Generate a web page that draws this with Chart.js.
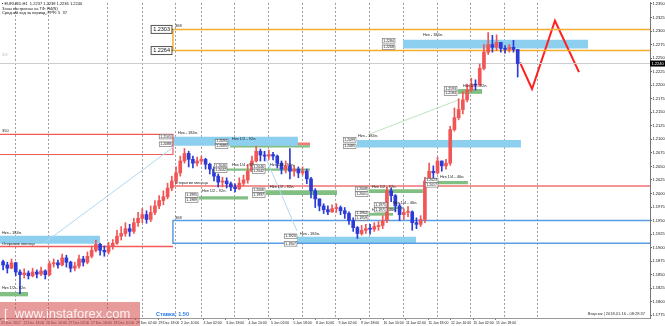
<!DOCTYPE html>
<html>
<head>
<meta charset="utf-8">
<script src="https://cdn.jsdelivr.net/npm/chart.js@4.4.1/dist/chart.umd.min.js"></script>
<style>
html, body { margin: 0; padding: 0; background: #fff; }
</style>
</head>
<body>
<canvas id="chart" width="665" height="326"></canvas>
<script>
// EURUSD H1, one candle = 3 hours, x is counted in trading hours from the left edge
const firstOpen = 1.1874;
const closes = [
  1.1868, 1.1862, 1.1872, 1.1855, 1.1850, 1.1853, 1.1848, 1.1855, 1.1851, 1.1857,
  1.1850, 1.1870, 1.1872, 1.1868, 1.1881, 1.1873, 1.1862, 1.1866, 1.1879, 1.1873,
  1.1884, 1.1895, 1.1906, 1.1895, 1.1892, 1.1903, 1.1908, 1.1921, 1.1926, 1.1935,
  1.1930, 1.1946, 1.1954, 1.1961, 1.1952, 1.1965, 1.1977, 1.1987, 1.1994, 1.2010,
  1.2023, 1.2038, 1.2060, 1.2074, 1.2063, 1.2056, 1.2060, 1.2063, 1.2054, 1.2045,
  1.2032, 1.2021, 1.2023, 1.2018, 1.2012, 1.2009, 1.2019, 1.2025, 1.2041, 1.2060,
  1.2078, 1.2071, 1.2069, 1.2072, 1.2069, 1.2056, 1.2045, 1.2051, 1.2041, 1.2045,
  1.2038, 1.2041, 1.2027, 1.2005, 1.1990, 1.1977, 1.1970, 1.1966, 1.1972, 1.1974,
  1.1968, 1.1963, 1.1950, 1.1937, 1.1926, 1.1932, 1.1935, 1.1934, 1.1939, 1.1941,
  1.1950, 1.2005, 1.1996, 1.1977, 1.1961, 1.1965, 1.1966, 1.1946, 1.1943, 1.1952,
  1.2023, 1.2041, 1.2038, 1.2060, 1.2051, 1.2056, 1.2118, 1.2140, 1.2155, 1.2173,
  1.2191, 1.2202, 1.2200, 1.2231, 1.2261, 1.2275, 1.2270, 1.2279, 1.2268, 1.2266,
  1.2270, 1.2266, 1.2240
];
const highs = [
  1.1877, 1.1873, 1.1879, 1.1873, 1.1859, 1.1861, 1.1857, 1.1862, 1.1859, 1.1864,
  1.1859, 1.1875, 1.1879, 1.1877, 1.1888, 1.1886, 1.1875, 1.1873, 1.1886, 1.1884,
  1.1892, 1.1903, 1.1914, 1.1908, 1.1903, 1.1910, 1.1915, 1.1932, 1.1939, 1.1946,
  1.1943, 1.1954, 1.1965, 1.1972, 1.1968, 1.1977, 1.1987, 1.1996, 1.2005, 1.2019,
  1.2032, 1.2049, 1.2069, 1.2083, 1.2078, 1.2069, 1.2067, 1.2069, 1.2065, 1.2056,
  1.2049, 1.2036, 1.2030, 1.2029, 1.2021, 1.2018, 1.2029, 1.2034, 1.2054, 1.2069,
  1.2087, 1.2082, 1.2078, 1.2080, 1.2076, 1.2071, 1.2060, 1.2060, 1.2083, 1.2052,
  1.2049, 1.2049, 1.2045, 1.2030, 1.2009, 1.1990, 1.1981, 1.1977, 1.1979, 1.1981,
  1.1977, 1.1974, 1.1966, 1.1955, 1.1939, 1.1941, 1.1943, 1.1943, 1.1946, 1.1948,
  1.1959, 1.2012, 1.2010, 1.1998, 1.1981, 1.1972, 1.1976, 1.1968, 1.1955, 1.1959,
  1.2030, 1.2056, 1.2051, 1.2067, 1.2060, 1.2063, 1.2124, 1.2158, 1.2175, 1.2188,
  1.2202, 1.2213, 1.2210, 1.2239, 1.2275, 1.2297, 1.2292, 1.2293, 1.2279, 1.2273,
  1.2275, 1.2283, 1.2266
];
const lows = [
  1.1859, 1.1853, 1.1861, 1.1848, 1.1815, 1.1844, 1.1842, 1.1846, 1.1844, 1.1848,
  1.1842, 1.1848, 1.1864, 1.1862, 1.1866, 1.1864, 1.1855, 1.1857, 1.1862, 1.1866,
  1.1870, 1.1881, 1.1892, 1.1886, 1.1884, 1.1888, 1.1897, 1.1906, 1.1914, 1.1921,
  1.1921, 1.1926, 1.1939, 1.1946, 1.1945, 1.1948, 1.1961, 1.1972, 1.1979, 1.1990,
  1.2005, 1.2018, 1.2032, 1.2056, 1.2049, 1.2047, 1.2051, 1.2054, 1.2045, 1.2036,
  1.2023, 1.2012, 1.2012, 1.2010, 1.2005, 1.2003, 1.2007, 1.2014, 1.2019, 1.2041,
  1.2058, 1.2060, 1.2060, 1.2063, 1.2062, 1.2047, 1.2036, 1.2038, 1.2027, 1.2032,
  1.2029, 1.2034, 1.2018, 1.1992, 1.1974, 1.1968, 1.1963, 1.1961, 1.1965, 1.1965,
  1.1961, 1.1954, 1.1943, 1.1930, 1.1917, 1.1923, 1.1926, 1.1925, 1.1930, 1.1932,
  1.1935, 1.1946, 1.1985, 1.1966, 1.1950, 1.1952, 1.1957, 1.1932, 1.1935, 1.1939,
  1.1946, 1.2019, 1.2029, 1.2036, 1.2041, 1.2045, 1.2052, 1.2115, 1.2136, 1.2147,
  1.2169, 1.2188, 1.2191, 1.2198, 1.2228, 1.2257, 1.2261, 1.2264, 1.2261, 1.2259,
  1.2261, 1.2261, 1.2215
];

// axis
const xLabels = ['21 Dec 2017', '22 Dec 18:00', '26 Dec 10:00', '27 Dec 02:00', '27 Dec 18:00',
  '28 Dec 10:00', '29 Dec 02:00', '29 Dec 18:00', '2 Jan 10:00', '3 Jan 02:00', '3 Jan 18:00',
  '4 Jan 10:00', '5 Jan 02:00', '5 Jan 18:00', '8 Jan 10:00', '9 Jan 02:00', '9 Jan 18:00',
  '10 Jan 10:00', '11 Jan 02:00', '11 Jan 18:00', '12 Jan 10:00', '15 Jan 02:00', '15 Jan 18:00'];
const yTicks = [1.1775, 1.1800, 1.1825, 1.1850, 1.1875, 1.1900, 1.1925, 1.1950, 1.1975, 1.2000,
  1.2025, 1.2050, 1.2075, 1.2100, 1.2125, 1.2150, 1.2175, 1.2200, 1.2225, 1.2250,
  1.2275, 1.2300, 1.2325, 1.2350];
const gridHours = [10, 33.4, 75.4, 100.3, 123.8, 142.2, 165.7, 189.9, 214.1, 237.6,
  261.7, 285.9, 310.1, 333.6, 357.7, 381.2];
const X_MIN = -0.7, X_MAX = 461.6, MONTH = 122.3;

// zones: [from, to, top, bottom]
const blueZones = [
  [X_MIN, 70.4, 1.1922, 1.1907],
  [MONTH, 211.2, 1.2105, 1.2088],
  [210.5, 295.2, 1.1920, 1.1907],
  [253.2, 369.8, 1.2099, 1.2085],
  [285.9, 417.5, 1.2284, 1.2268]
];
const greenZones = [
  [X_MIN, 19.2, 1.1818, 1.1810],
  [162.9, 219.8, 1.2089, 1.2085],
  [160.7, 219.8, 1.2046, 1.2042],
  [140.8, 175.7, 1.1995, 1.1989],
  [188.5, 239.0, 1.2006, 1.1997],
  [261.7, 300.1, 1.2008, 1.2001],
  [275.2, 285.9, 1.1975, 1.1971],
  [261.7, 278.8, 1.1964, 1.1959],
  [310.8, 332.1, 1.2023, 1.2017],
  [325.0, 342.1, 1.2193, 1.2184]
];
const redZones = [
  [162.9, 219.8, 1.2094, 1.2089]
];

// levels
const targetHigh = 1.2303, targetLow = 1.2264;
const redBoxTop = 1.2109, redBoxBottom = 1.2072;
const blueBoxTop = 1.1950, blueBoxBottom = 1.1908;
const decOpen = 1.1902, janOpen = 1.2014;
const lastPrice = 1.2240;
const forecast = [[369.1, 1.2242], [377.7, 1.2193], [394.0, 1.2319], [411.1, 1.2224]];
const trendLines = [
  [[29.9, 1.1907], [122.3, 1.2085]],
  [[186.3, 1.2078], [210.5, 1.1931]]
];
const greenTrend = [[262.4, 1.2110], [326.5, 1.2174]];

const notes = [
  [123.8, 1.2310, '368'], [123.8, 1.1955, '368'], [0.7, 1.2116, '350'],
  [0.7, 1.1907, 'Открытие месяца'], [123.8, 1.2020, 'Открытие месяца'],
  [0.7, 1.1927, 'Нкз - 184п.'], [125.9, 1.2111, 'Нкз - 184п.'], [253.9, 1.2106, 'Нкз - 184п.'],
  [212.7, 1.1926, 'Нкз - 184п.'], [300.2, 1.2292, 'Нкз - 184п.'],
  [0.7, 1.1825, 'Нкз 1/2 - 92п.'], [164.3, 1.2101, 'Нкз 1/2 - 92п.'],
  [164.3, 1.2053, 'Нкз 1/4 - 92п.'], [191.3, 1.2053, 'Нкз 1/4 - 92п.'],
  [143.0, 1.2004, 'Нкз 1/2 - 92п.'], [191.3, 1.2012, 'Нкз 1/2 - 92п.'],
  [263.9, 1.2013, 'Нкз 1/2 - 92п.'], [278.8, 1.1983, 'Нкз 1/4 - 46п.'],
  [263.9, 1.1970, 'Нкз 1/4 - 46п.'], [312.2, 1.2030, 'Нкз 1/4 - 46п.'],
  [328.6, 1.2198, 'Нкз 1/2 - 92п.']
];
const tags = [
  [121.6, 1.2105, '1.2105'], [121.6, 1.2091, '1.2088'],
  [252.5, 1.2099, '1.2099'], [252.5, 1.2087, '1.2085'],
  [210.5, 1.1921, '1.1920'], [210.5, 1.1907, '1.1907'],
  [280.2, 1.2282, '1.2284'], [280.2, 1.2270, '1.2268'],
  [161.4, 1.2096, '1.2094'], [161.4, 1.2087, '1.2085'],
  [160.7, 1.2051, '1.2046'], [160.7, 1.2043, '1.2042'],
  [187.8, 1.2049, '1.2046'], [187.8, 1.2041, '1.2042'],
  [140.1, 1.1997, '1.1995'], [140.1, 1.1988, '1.1989'],
  [187.8, 1.2006, '1.2006'], [187.8, 1.1997, '1.1997'],
  [261.0, 1.2008, '1.2008'], [261.0, 1.1999, '1.2001'],
  [274.5, 1.1979, '1.1975'], [274.5, 1.1970, '1.1971'],
  [261.0, 1.1963, '1.1964'], [261.0, 1.1955, '1.1959'],
  [310.8, 1.2024, '1.2023'], [310.8, 1.2016, '1.2017'],
  [324.3, 1.2193, '1.2193'], [324.3, 1.2185, '1.2184']
];

const UP = '#f05656', DOWN = '#2c3ad6';
const opens = closes.map((c, i) => i === 0 ? firstOpen : closes[i - 1]);
const xs = closes.map((c, i) => 3 * i + 1.5);
const candleColors = closes.map((c, i) => c >= opens[i] ? UP : DOWN);

function zone(z, color) {
  return {
    type: 'line', data: [{x: z[0], y: z[2]}, {x: z[1], y: z[2]}],
    fill: {value: z[3]}, backgroundColor: color, borderColor: 'transparent',
    borderWidth: 0, pointRadius: 0, order: 20
  };
}
function path(pts, color, width) {
  return {
    type: 'line', data: pts.map(p => ({x: p[0], y: p[1]})),
    borderColor: color, borderWidth: width, pointRadius: 0, fill: false, order: 10
  };
}

const datasets = [];
blueZones.forEach(z => datasets.push(zone(z, '#8ccfee')));
greenZones.forEach(z => datasets.push(zone(z, '#82bf82')));
redZones.forEach(z => datasets.push(zone(z, '#ef7a7a')));
trendLines.forEach(t => datasets.push(path(t, '#b2d8ee', 1)));
datasets.push(path(greenTrend, '#bfe2bf', 1));
datasets.push(path([[X_MIN, lastPrice], [X_MAX, lastPrice]], '#cccccc', 1));
datasets.push(path([[X_MAX, targetHigh], [MONTH, targetHigh], [MONTH, targetLow], [X_MAX, targetLow]], '#f6ad2c', 1.5));
datasets.push(path([[X_MIN, redBoxTop], [MONTH, redBoxTop], [MONTH, redBoxBottom], [X_MIN, redBoxBottom]], '#f25a5a', 1.2));
datasets.push(path([[X_MAX, blueBoxTop], [MONTH, blueBoxTop], [MONTH, blueBoxBottom], [X_MAX, blueBoxBottom]], '#5a9de6', 1.5));
datasets.push(path([[X_MIN, decOpen], [MONTH, decOpen]], '#f25a5a', 1.5));
datasets.push(path([[MONTH, janOpen], [X_MAX, janOpen]], '#f27070', 1.5));
datasets.push({
  type: 'bar', data: xs.map((x, i) => ({x: x, y: [lows[i], highs[i]]})),
  backgroundColor: candleColors, barThickness: 1, grouped: false, order: 2
});
datasets.push({
  type: 'bar', data: xs.map((x, i) => ({x: x, y: [opens[i], closes[i]]})),
  backgroundColor: candleColors, barThickness: 3, minBarLength: 1, grouped: false, order: 1
});
datasets.push(path(forecast, '#ff2020', 2));
datasets.forEach(d => { d.xAxisID = 'x'; d.yAxisID = 'y'; });

const FONT = '"Liberation Sans", Arial, sans-serif';

const overlay = {
  id: 'overlay',
  beforeDatasetsDraw(chart) {
    // dotted vertical grid
    const {ctx, chartArea, scales: {x}} = chart;
    ctx.save();
    ctx.strokeStyle = '#9a9a9a';
    ctx.lineWidth = 1;
    ctx.setLineDash([2, 2]);
    gridHours.forEach(h => {
      const px = Math.round(x.getPixelForValue(h)) + 0.5;
      ctx.beginPath();
      ctx.moveTo(px, chartArea.top);
      ctx.lineTo(px, chartArea.bottom);
      ctx.stroke();
    });
    ctx.restore();
  },
  afterDatasetsDraw(chart) {
    const {ctx, scales: {x, y}} = chart;
    ctx.save();
    ctx.textBaseline = 'middle';
    ctx.textAlign = 'left';
    ctx.font = '4px ' + FONT;
    ctx.fillStyle = '#222';
    notes.forEach(n => ctx.fillText(n[2], x.getPixelForValue(n[0]), y.getPixelForValue(n[1])));

    // small price tags on the zones
    ctx.font = '3.5px ' + FONT;
    tags.forEach(t => {
      const w = ctx.measureText(t[2]).width + 2;
      const px = x.getPixelForValue(t[0]), py = y.getPixelForValue(t[1]);
      ctx.fillStyle = '#fff';
      ctx.fillRect(px - w, py - 2.3, w, 4.6);
      ctx.strokeStyle = '#666';
      ctx.lineWidth = 0.6;
      ctx.strokeRect(px - w, py - 2.3, w, 4.6);
      ctx.fillStyle = '#111';
      ctx.fillText(t[2], px - w + 1, py);
    });

    // level tags 1.2303 / 1.2264
    ctx.font = '5.5px ' + FONT;
    [targetHigh, targetLow].forEach(v => {
      const txt = v.toFixed(4);
      const w = ctx.measureText(txt).width + 4;
      const px = x.getPixelForValue(121.6), py = y.getPixelForValue(v);
      ctx.fillStyle = '#fff';
      ctx.fillRect(px - w, py - 4, w, 8);
      ctx.strokeStyle = '#555';
      ctx.lineWidth = 1;
      ctx.strokeRect(px - w, py - 4, w, 8);
      ctx.fillStyle = '#111';
      ctx.fillText(txt, px - w + 2, py);
      ctx.beginPath();
      ctx.moveTo(px, py);
      ctx.lineTo(x.getPixelForValue(MONTH), py);
      ctx.stroke();
    });
    ctx.restore();
  },
  afterDraw(chart) {
    const {ctx, chartArea, scales: {y}} = chart;
    ctx.save();
    ctx.textBaseline = 'middle';
    ctx.textAlign = 'left';

    // header
    ctx.fillStyle = '#111';
    ctx.font = '4px ' + FONT;
    ctx.fillText('▪ EURUSD,H1  1.2237 1.2238 1.2236 1.2240', 2, 4);
    ctx.fillText('Зоны построены на ТФ: H4(N)', 2, 8.5);
    ctx.fillText('Средний ход за период, PPR: 5  37', 2, 13);
    ctx.fillStyle = '#bbb';
    ctx.fillText('3/3', 2, 55);

    // current price on the axis
    const py = y.getPixelForValue(lastPrice);
    ctx.fillStyle = '#000';
    ctx.fillRect(chartArea.right, py - 3, 15, 6);
    ctx.fillStyle = '#fff';
    ctx.fillText(lastPrice.toFixed(4), chartArea.right + 1.5, py);

    // watermark
    ctx.fillStyle = 'rgba(214, 72, 72, 0.55)';
    ctx.fillRect(0, 302, 140, 24);
    ctx.fillStyle = 'rgba(255,255,255,0.85)';
    ctx.font = '13px ' + FONT;
    ctx.fillText('[  www.instaforex.com', 4, 314);

    ctx.fillStyle = '#2a7ae8';
    ctx.font = 'bold 5.5px ' + FONT;
    ctx.fillText('Ставка: 1.50', 156, 314);

    ctx.fillStyle = '#333';
    ctx.font = '4px ' + FONT;
    ctx.textAlign = 'right';
    ctx.fillText('Вторник | 2018.01.16 - 08:28:37', 645, 314);
    ctx.restore();
  }
};

new Chart(document.getElementById('chart'), {
  type: 'bar',
  data: {datasets: datasets},
  options: {
    responsive: false,
    devicePixelRatio: 1,
    animation: false,
    layout: {padding: 0},
    plugins: {legend: {display: false}, tooltip: {enabled: false}},
    scales: {
      x: {
        type: 'linear', min: X_MIN, max: X_MAX, offset: false, position: 'bottom',
        afterBuildTicks: s => { s.ticks = xLabels.map((l, k) => ({value: k * 16})); },
        afterFit: s => { s.height = 8; },
        ticks: {
          autoSkip: false, maxRotation: 0, align: 'start', padding: 0.5,
          font: {size: 3.5, family: FONT}, color: '#222',
          callback: (v, i) => xLabels[i]
        },
        grid: {drawOnChartArea: false, offset: false, tickLength: 2, color: '#777'},
        border: {display: true, color: '#999'}
      },
      y: {
        type: 'linear', position: 'right', min: 1.1770, max: 1.2352,
        afterBuildTicks: s => { s.ticks = yTicks.map(v => ({value: v})); },
        afterFit: s => { s.width = 15; },
        ticks: {
          padding: 0.5, font: {size: 4, family: FONT}, color: '#111',
          callback: v => v.toFixed(4)
        },
        grid: {drawOnChartArea: false, tickLength: 2, color: '#666'},
        border: {display: true, color: '#777'}
      }
    }
  },
  plugins: [overlay]
});
</script>
</body>
</html>
